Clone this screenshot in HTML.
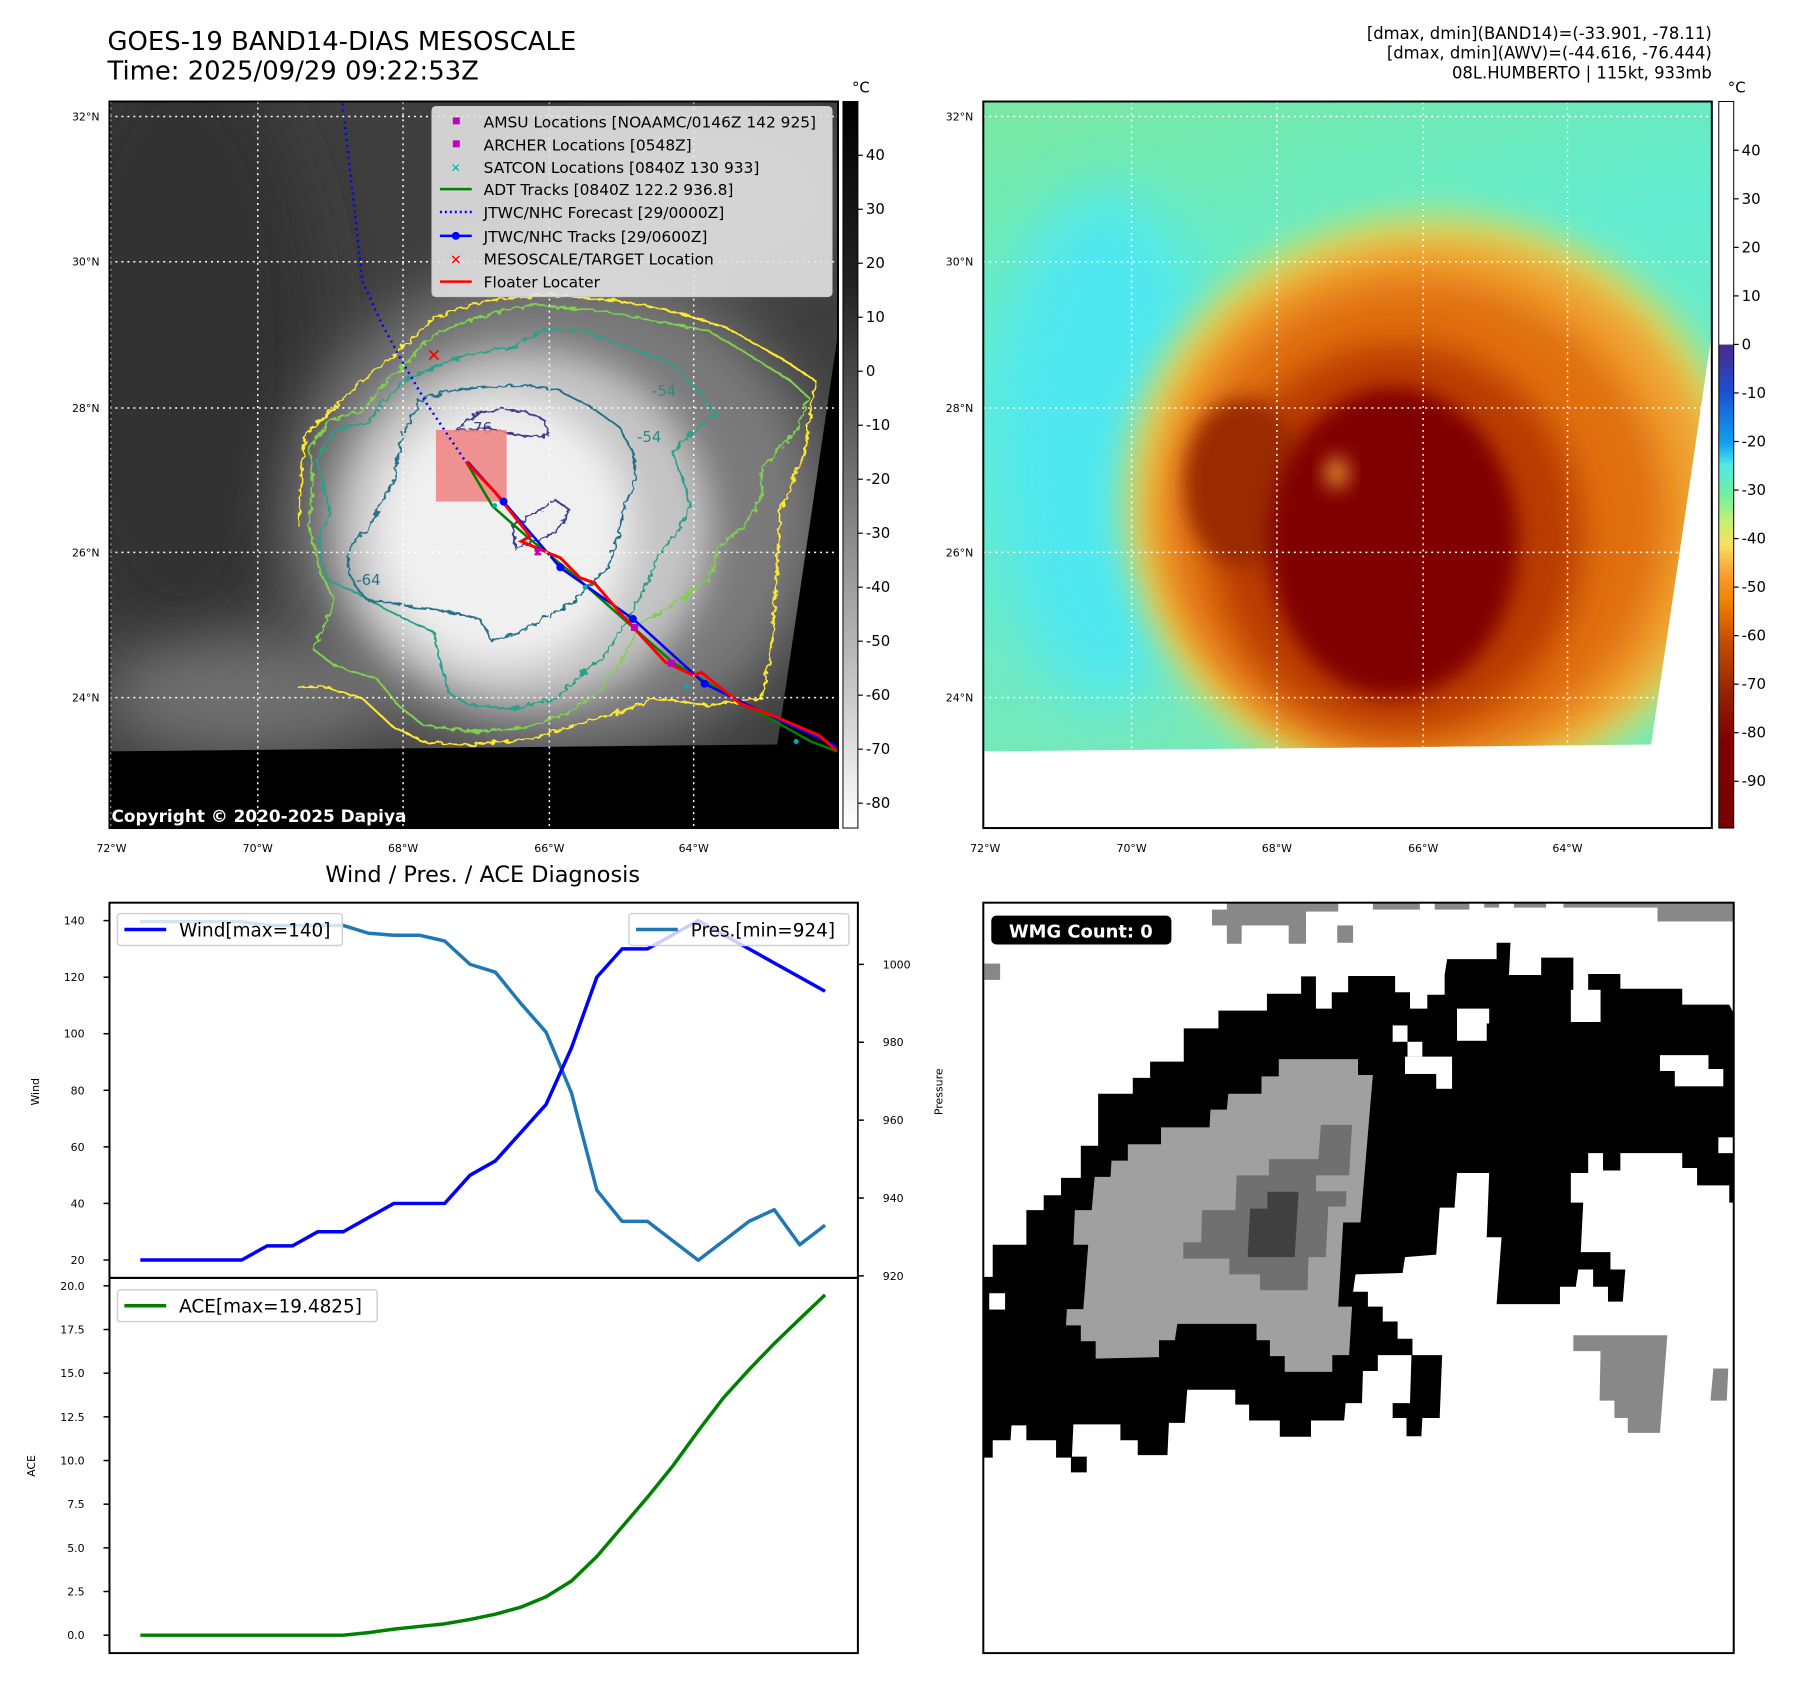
<!DOCTYPE html>
<html><head><meta charset="utf-8"><style>
html,body{margin:0;padding:0;background:#fff;}
svg{display:block;font-family:"DejaVu Sans","Liberation Sans",sans-serif;}
</style></head><body>
<svg id="root" width="1801" height="1690" viewBox="0 0 1801 1690" xmlns="http://www.w3.org/2000/svg">
<defs>
<filter id="b30" x="-50%" y="-50%" width="200%" height="200%"><feGaussianBlur stdDeviation="30"/></filter>
<filter id="b18" x="-50%" y="-50%" width="200%" height="200%"><feGaussianBlur stdDeviation="18"/></filter>
<filter id="b10" x="-50%" y="-50%" width="200%" height="200%"><feGaussianBlur stdDeviation="10"/></filter>
<filter id="wob" x="-10%" y="-10%" width="120%" height="120%"><feTurbulence type="fractalNoise" baseFrequency="0.05" numOctaves="2" seed="3"/><feDisplacementMap in="SourceGraphic" scale="20"/></filter>
<clipPath id="clipL"><polygon points="110,102 842,102 842,335 781,748 110,755"/></clipPath>
<clipPath id="clipR"><polygon points="988,102 1720,102 1720,335 1659,748 988,755"/></clipPath>
<clipPath id="frameL"><rect x="110" y="102" width="732" height="730"/></clipPath>
<linearGradient id="cbGrey" x1="0" y1="0" x2="0" y2="1">
<stop offset="0" stop-color="#000"/><stop offset="0.25" stop-color="#222"/><stop offset="0.6" stop-color="#8a8a8a"/><stop offset="1" stop-color="#fff"/></linearGradient>
<linearGradient id="cbCol" x1="0" y1="0" x2="0" y2="1">
<stop offset="0" stop-color="#fff"/><stop offset="0.334" stop-color="#fff"/><stop offset="0.335" stop-color="#4a2a8a"/>
<stop offset="0.40" stop-color="#1a50d0"/><stop offset="0.47" stop-color="#10a0f0"/><stop offset="0.50" stop-color="#50e8e8"/>
<stop offset="0.54" stop-color="#70f0a0"/><stop offset="0.58" stop-color="#c8f070"/><stop offset="0.61" stop-color="#f8e060"/>
<stop offset="0.65" stop-color="#f8a030"/><stop offset="0.69" stop-color="#f08000"/><stop offset="0.74" stop-color="#c85000"/>
<stop offset="0.82" stop-color="#902000"/><stop offset="0.88" stop-color="#800000"/><stop offset="1" stop-color="#780000"/></linearGradient>
<linearGradient id="bgR" x1="0" y1="0" x2="0.3" y2="1">
<stop offset="0" stop-color="#7ae8a0"/><stop offset="0.4" stop-color="#62ecd0"/><stop offset="1" stop-color="#78e8b8"/></linearGradient>
</defs>
<g transform="scale(0.99524)">
<!-- titles -->
<text x="108" y="50" font-size="26">GOES-19 BAND14-DIAS MESOSCALE</text>
<text x="108" y="80" font-size="26">Time: 2025/09/29 09:22:53Z</text>
<g font-size="16.5" text-anchor="end">
<text x="1720" y="39">[dmax, dmin](BAND14)=(-33.901, -78.11)</text>
<text x="1720" y="59">[dmax, dmin](AWV)=(-44.616, -76.444)</text>
<text x="1720" y="79">08L.HUMBERTO | 115kt, 933mb</text>
</g>

<!-- LEFT MAP -->
<g>
<rect x="110" y="102" width="732" height="730" fill="#000"/>
<g clip-path="url(#clipL)">
<rect x="110" y="102" width="732" height="660" fill="#3e3e3e"/>
<ellipse cx="180" cy="350" rx="140" ry="300" fill="#303030" filter="url(#b30)"/>
<ellipse cx="700" cy="200" rx="150" ry="90" fill="#555" filter="url(#b30)"/>
<ellipse cx="250" cy="700" rx="150" ry="60" fill="#707070" filter="url(#b30)"/>
<ellipse cx="560" cy="515" rx="270" ry="245" fill="#7a7a7a" filter="url(#b30)"/>
<ellipse cx="525" cy="530" rx="190" ry="180" fill="#c4c4c4" filter="url(#b18)"/>
<ellipse cx="505" cy="535" rx="130" ry="135" fill="#f0f0f0" filter="url(#b18)"/>
</g>
<g clip-path="url(#frameL)">
<g transform="translate(300,282.5) scale(0.358,0.333)" fill="none" stroke-width="2" filter="url(#wob)">
<path vector-effect="non-scaling-stroke" stroke="#ffe830" d="M0,740 L10,560 20,460 80,400 160,320 270,220 380,110 520,60 700,40 900,60 1050,90 1200,140 1350,230 1450,300 1420,520 1350,700 1340,900 1330,1100 1300,1260 1150,1280 1000,1260 900,1300 770,1340 660,1380 480,1400 350,1390 260,1340 180,1260 60,1220 0,1230"/>
<path vector-effect="non-scaling-stroke" stroke="#80d050" d="M30,740 L40,600 30,500 90,420 180,390 260,290 380,160 500,110 650,70 850,90 1000,120 1150,150 1260,220 1380,300 1430,350 1400,450 1300,560 1300,650 1250,740 1180,800 1150,900 1050,980 960,1030 920,1120 850,1230 760,1300 640,1345 490,1360 350,1340 280,1280 220,1200 100,1160 40,1110 70,1050 100,960 60,880Z"/>
<path vector-effect="non-scaling-stroke" stroke="#2aa08a" d="M60,760 L90,700 70,620 50,540 100,450 200,420 240,360 300,300 380,260 480,220 600,200 690,145 800,150 950,210 1050,250 1120,330 1170,400 1100,460 1050,520 1080,600 1100,680 1060,760 1010,830 970,930 930,1010 860,1130 800,1180 720,1260 600,1290 480,1280 420,1240 390,1120 380,1060 280,1010 180,950 80,900 60,820Z"/>
<path vector-effect="non-scaling-stroke" stroke="#25708a" d="M140,830 L150,790 200,740 270,590 290,470 340,360 420,330 520,320 650,315 730,330 820,380 900,440 940,520 945,600 915,680 900,760 870,860 780,960 700,1010 620,1060 540,1085 510,1020 430,1000 370,990 240,970 190,960 160,920 140,880Z"/>
<path vector-effect="non-scaling-stroke" stroke="#3a3f8a" d="M440,450 L500,400 560,385 640,395 690,420 700,465 650,470 600,460 530,445 470,450Z M600,740 L650,710 720,660 760,690 720,760 650,790 610,810Z"/>
</g>
<g font-size="15" fill="#2a8a80">
<text x="470" y="435" fill="#3a3f8a">-76</text>
<text x="655" y="398">-54</text>
<text x="640" y="444">-54</text>
<text x="358" y="588" fill="#25708a">-64</text>
</g>
<rect x="438" y="432" width="71" height="72" fill="#f08080" opacity="0.85"/>
<polyline fill="none" stroke="#0000ff" stroke-width="2.5" stroke-dasharray="2,4" points="344,104 355,200 364,282 382,322 404,363 429,406 468,464"/>
<g transform="translate(300,282.5) scale(0.358,0.333)" fill="none">
<polyline vector-effect="non-scaling-stroke" stroke="#008000" stroke-width="2.5" points="470,545 545,680 640,770 760,875 1050,1150 1240,1270 1440,1390 1515,1420"/>
<polyline vector-effect="non-scaling-stroke" stroke="#0000ff" stroke-width="2.5" points="475,545 575,665 735,865 940,1020 1140,1215 1350,1325 1515,1405"/>
<polyline vector-effect="non-scaling-stroke" stroke="#ff0000" stroke-width="3" points="470,545 550,635 650,770 625,785 735,835 790,895 830,910 910,1010 1030,1150 1110,1190 1130,1180 1240,1275 1340,1315 1460,1370 1515,1420"/>
</g>
<g fill="#0000ff"><circle cx="506" cy="504" r="4"/><circle cx="563" cy="570" r="4"/><circle cx="636" cy="622" r="4"/><circle cx="708" cy="687" r="4"/></g>
<g fill="#00b0b0"><circle cx="497" cy="508" r="2.5"/><circle cx="588" cy="590" r="2.5"/><circle cx="690" cy="690" r="2.5"/><circle cx="800" cy="745" r="2.5"/></g>
<g fill="#c000c0"><rect x="537" y="551" width="7" height="7"/><rect x="634" y="627" width="7" height="7"/><rect x="671" y="663" width="7" height="7"/></g>
<text x="436" y="363" fill="#ff0000" font-size="18" font-weight="bold" text-anchor="middle">✕</text>
</g>
<g stroke="#fff" stroke-width="1.5" stroke-dasharray="2,4">
<line x1="259" y1="102" x2="259" y2="832"/><line x1="405" y1="102" x2="405" y2="832"/><line x1="552" y1="102" x2="552" y2="832"/><line x1="697" y1="102" x2="697" y2="832"/>
<line x1="110" y1="117" x2="842" y2="117"/><line x1="110" y1="263" x2="842" y2="263"/><line x1="110" y1="410" x2="842" y2="410"/><line x1="110" y1="555" x2="842" y2="555"/><line x1="110" y1="701" x2="842" y2="701"/>
<line x1="111" y1="102" x2="111" y2="832"/>
</g>
<!-- legend -->
<g>
<rect x="434" y="107" width="402" height="191" rx="4" fill="#e6e6e6" fill-opacity="0.88" stroke="#ccc"/>
<g font-size="15.5" fill="#000">
<rect x="455" y="118" width="7" height="7" fill="#c000c0"/><text x="486" y="128">AMSU Locations [NOAAMC/0146Z 142 925]</text>
<rect x="455" y="141" width="7" height="7" fill="#c000c0"/><text x="486" y="151">ARCHER Locations [0548Z]</text>
<text x="458" y="173" fill="#00b0b0" font-size="12" text-anchor="middle">✕</text><text x="486" y="174">SATCON Locations [0840Z 130 933]</text>
<line x1="442" y1="190" x2="474" y2="190" stroke="#008000" stroke-width="2.5"/><text x="486" y="196">ADT Tracks [0840Z 122.2 936.8]</text>
<line x1="442" y1="213" x2="474" y2="213" stroke="#0000ff" stroke-width="2.5" stroke-dasharray="2,3"/><text x="486" y="219">JTWC/NHC Forecast [29/0000Z]</text>
<line x1="442" y1="237" x2="474" y2="237" stroke="#0000ff" stroke-width="2.5"/><circle cx="458" cy="237" r="4" fill="#0000ff"/><text x="486" y="243">JTWC/NHC Tracks [29/0600Z]</text>
<text x="458" y="266" fill="#ff0000" font-size="14" font-weight="bold" text-anchor="middle">✕</text><text x="486" y="266">MESOSCALE/TARGET Location</text>
<line x1="442" y1="283" x2="474" y2="283" stroke="#ff0000" stroke-width="2.5"/><text x="486" y="289">Floater Locater</text>
</g></g>
<text x="112" y="826" font-size="17" font-weight="bold" fill="#fff">Copyright © 2020-2025 Dapiya</text>
<rect x="110" y="102" width="732" height="730" fill="none" stroke="#000" stroke-width="2"/>
<g font-size="11" fill="#000">
<g text-anchor="end"><text x="100" y="121">32°N</text><text x="100" y="267">30°N</text><text x="100" y="414">28°N</text><text x="100" y="559">26°N</text><text x="100" y="705">24°N</text></g>
<g text-anchor="middle"><text x="112" y="856">72°W</text><text x="259" y="856">70°W</text><text x="405" y="856">68°W</text><text x="552" y="856">66°W</text><text x="697" y="856">64°W</text></g>
</g>
<g>
<rect x="847" y="102" width="15" height="730" fill="url(#cbGrey)" stroke="#000" stroke-width="1"/>
<text x="865" y="93" font-size="15" text-anchor="middle">°C</text>
<g font-size="15" fill="#000" id="cb1ticks"></g>
</g>

<!-- RIGHT MAP -->
<g>
<rect x="988" y="102" width="732" height="730" fill="#fff"/>
<g clip-path="url(#clipR)">
<rect x="988" y="102" width="732" height="660" fill="url(#bgR)"/>
<ellipse cx="1110" cy="450" rx="110" ry="260" fill="#50e8f0" filter="url(#b30)"/>
<ellipse cx="1440" cy="505" rx="310" ry="290" fill="#d8e060" filter="url(#b18)"/>
<ellipse cx="1440" cy="510" rx="290" ry="270" fill="#f0a030" filter="url(#b18)"/>
<ellipse cx="1425" cy="520" rx="250" ry="240" fill="#e07010" filter="url(#b18)"/>
<ellipse cx="1405" cy="540" rx="185" ry="195" fill="#b83a00" filter="url(#b18)"/>
<ellipse cx="1250" cy="485" rx="60" ry="85" fill="#9a2a00" filter="url(#b10)"/>
<ellipse cx="1400" cy="545" rx="125" ry="155" fill="#800000" filter="url(#b10)"/>
<ellipse cx="1343" cy="475" rx="12" ry="16" fill="#e09030" filter="url(#b10)"/>
</g>
<g stroke="#fff" stroke-width="1.5" stroke-dasharray="2,4">
<line x1="1137" y1="102" x2="1137" y2="832"/><line x1="1283" y1="102" x2="1283" y2="832"/><line x1="1430" y1="102" x2="1430" y2="832"/><line x1="1575" y1="102" x2="1575" y2="832"/>
<line x1="988" y1="117" x2="1720" y2="117"/><line x1="988" y1="263" x2="1720" y2="263"/><line x1="988" y1="410" x2="1720" y2="410"/><line x1="988" y1="555" x2="1720" y2="555"/><line x1="988" y1="701" x2="1720" y2="701"/>
</g>
<rect x="988" y="102" width="732" height="730" fill="none" stroke="#000" stroke-width="2"/>
<g font-size="11" fill="#000">
<g text-anchor="end"><text x="978" y="121">32°N</text><text x="978" y="267">30°N</text><text x="978" y="414">28°N</text><text x="978" y="559">26°N</text><text x="978" y="705">24°N</text></g>
<g text-anchor="middle"><text x="990" y="856">72°W</text><text x="1137" y="856">70°W</text><text x="1283" y="856">68°W</text><text x="1430" y="856">66°W</text><text x="1575" y="856">64°W</text></g>
</g>
</g>
<g>
<rect x="1727" y="102" width="15" height="730" fill="url(#cbCol)" stroke="#000" stroke-width="1"/>
<text x="1745" y="93" font-size="15" text-anchor="middle">°C</text>
<g font-size="15" fill="#000" id="cb2ticks"></g>
</g>

<!-- WMG PANEL -->
<g>
<rect x="988" y="907" width="754" height="754" fill="#fff"/>
<svg x="988" y="907" width="754" height="754" viewBox="3 14 1516 1516" preserveAspectRatio="none">
<g fill="#888">
<rect x="465" y="28" width="190" height="32"/><rect x="495" y="12" width="225" height="20"/><rect x="495" y="55" width="30" height="42"/><rect x="620" y="55" width="35" height="42"/><rect x="718" y="60" width="32" height="35"/>
<rect x="790" y="12" width="95" height="16"/><rect x="915" y="12" width="70" height="16"/><rect x="1015" y="12" width="30" height="12"/><rect x="1075" y="12" width="65" height="12"/><rect x="1175" y="12" width="190" height="12"/><rect x="1365" y="12" width="160" height="40"/>
<rect x="5" y="137" width="32" height="33"/>
<polygon points="1195,888 1385,888 1370,1085 1305,1085 1305,1055 1278,1055 1278,1020 1248,1020 1250,920 1195,920"/>
<polygon points="1478,955 1508,955 1505,1020 1472,1020"/>
</g>
<polygon fill="#000" points="0,770 22,770 22,705 90,705 90,635 125,635 125,605 160,605 160,570 200,570 200,505 235,505 235,400 305,400 305,368 340,368 340,335 408,335 408,268 478,268 478,232 576,232 576,198 645,198 645,163 675,163 675,228 707,228 707,195 740,195 740,162 835,162 835,195 865,195 865,228 900,228 900,200 935,200 935,160 940,128 1040,128 1040,95 1068,95 1065,160 1130,160 1130,125 1195,125 1195,255 1225,255 1225,158 1290,158 1290,188 1415,188 1415,220 1510,220 1525,250 1525,620 1510,620 1510,585 1445,585 1445,550 1415,550 1415,520 1290,520 1290,555 1255,555 1255,520 1225,520 1225,560 1190,560 1190,620 1215,620 1210,720 1270,720 1270,755 1300,755 1295,820 1265,820 1265,790 1235,790 1235,755 1205,755 1200,790 1168,790 1168,825 1040,825 1050,690 1020,690 1025,560 960,560 955,630 925,630 918,725 855,730 850,762 755,765 750,800 780,800 780,830 810,830 810,860 840,860 840,895 870,895 870,928 930,928 925,1055 890,1055 888,1092 858,1092 858,1055 830,1055 830,1025 865,1025 868,928 800,928 800,960 770,960 768,1025 735,1025 732,1060 665,1060 665,1093 602,1093 602,1060 540,1060 540,1028 512,1028 512,998 415,998 410,1065 378,1065 375,1130 315,1130 315,1100 280,1100 280,1068 185,1068 182,1133 212,1133 212,1165 180,1165 180,1135 150,1135 150,1100 90,1100 90,1070 60,1070 58,1100 22,1100 22,1135 0,1135"/>
<g fill="#fff">
<rect x="830" y="262" width="30" height="33"/><rect x="860" y="295" width="30" height="30"/><rect x="855" y="325" width="95" height="35"/><rect x="918" y="355" width="32" height="35"/>
<rect x="960" y="228" width="65" height="30"/><rect x="960" y="255" width="60" height="38"/><rect x="1190" y="190" width="60" height="65"/>
<rect x="1370" y="322" width="98" height="32"/><rect x="1400" y="350" width="98" height="35"/><rect x="1488" y="488" width="30" height="32"/>
<rect x="15" y="803" width="32" height="33"/>
</g>
<polygon fill="#a0a0a0" points="600,330 760,330 760,362 790,362 765,660 730,660 720,830 748,830 742,928 708,928 708,962 612,962 612,930 582,930 582,898 555,898 555,865 395,865 390,898 358,898 358,932 230,935 230,900 200,900 200,868 170,868 172,835 205,835 215,705 185,705 188,635 222,635 228,568 260,568 262,535 295,535 295,502 362,502 362,468 460,468 462,432 495,432 498,400 565,400 565,365 600,365"/>
<polygon fill="#707070" points="685,463 748,463 742,565 675,565 675,597 737,597 735,628 700,628 695,730 660,730 658,797 562,797 562,765 500,765 500,733 407,733 407,700 443,700 445,635 512,635 515,565 580,565 580,532 680,532"/>
<polygon fill="#404040" points="577,598 640,598 632,730 537,730 542,632 577,632"/>
</svg>
<rect x="996" y="920" width="181" height="29" rx="5" fill="#000"/>
<text x="1086" y="942" font-size="18" font-weight="bold" fill="#fff" text-anchor="middle">WMG Count: 0</text>
<rect x="988" y="907" width="754" height="754" fill="none" stroke="#000" stroke-width="2"/>
</g>

<!-- CHART -->
<text x="485" y="886" font-size="22.5" text-anchor="middle">Wind / Pres. / ACE Diagnosis</text>
<g id="chart"></g>
</g>
</svg>
<script>
const wind = [20,20,20,20,20,25,25,30,30,35,40,40,40,50,55,65,75,95,120,130,130,135,140,135,130,125,120,115];
const pressure = [1011,1011,1011,1011,1011,1010,1010,1010,1010,1008,1007.5,1007.5,1006,1000,998,990,982.6,967,942,934,934,929,924,929,934,937,928,933];
const ace = [0,0,0,0,0,0,0,0,0,0.15,0.35,0.5,0.65,0.9,1.2,1.6,2.2,3.1,4.5,6.2,7.9,9.7,11.7,13.6,15.2,16.7,18.1,19.48];
const windTicks = [20,40,60,80,100,120,140];
const presTicks = [920,940,960,980,1000];
const aceTicks = [0,2.5,5,7.5,10,12.5,15,17.5,20];
const cb1Ticks = [40,30,20,10,0,-10,-20,-30,-40,-50,-60,-70,-80];
const cb2Ticks = [40,30,20,10,0,-10,-20,-30,-40,-50,-60,-70,-80,-90];

const NS = 'http://www.w3.org/2000/svg';
function mk(tag, attrs, parent) {
  const e = document.createElementNS(NS, tag);
  for (const k in attrs) e.setAttribute(k, attrs[k]);
  parent.appendChild(e);
  return e;
}
const xPos = i => 141 + i * (829 - 141) / (wind.length - 1);
const yWind = v => 1266 - (v - 20) * (1266 - 925) / 120;
const yPres = v => 1282 - (v - 920) * (1282 - 969) / 80;
const yAce = v => 1643 - v * (1643 - 1292) / 20;
const yCb1 = v => 156 + (40 - v) * (807 - 156) / 120;
const yCb2 = v => 151 + (40 - v) * (785 - 151) / 130;

const chart = document.getElementById('chart');
const f1 = mk('rect', {x:110, y:907, width:752, height:377, fill:'none', stroke:'#000', 'stroke-width':2}, chart);


const f2 = mk('rect', {x:110, y:1284, width:752, height:377, fill:'none', stroke:'#000', 'stroke-width':2}, chart);



function line(arr, yf, color, name) {
  const pts = arr.map((v, i) => xPos(i).toFixed(1) + ',' + yf(v).toFixed(1)).join(' ');
  const p = mk('polyline', {points: pts, fill:'none', stroke:color, 'stroke-width':3.5, 'stroke-linejoin':'round'}, chart);
  
  
}
line(pressure, yPres, '#1f77b4', 'pressure-line');
line(wind, yWind, '#0000ff', 'wind-line');
line(ace, yAce, '#008000', 'ace-line');

function ticksLeft(ticks, yf, fmt, name) {
  ticks.forEach(t => {
    const y = yf(t);
    mk('line', {x1:104, y1:y, x2:110, y2:y, stroke:'#000', 'stroke-width':1.5}, chart);
    const tx = mk('text', {x:85, y:y+4, 'font-size':11, 'text-anchor':'end'}, chart);
    tx.textContent = fmt(t);
    
    
  });
}
ticksLeft(windTicks, yWind, t => String(t), 'wind-tick-label');
ticksLeft(aceTicks, yAce, t => t.toFixed(1), 'ace-tick-label');
presTicks.forEach(t => {
  const y = yPres(t);
  mk('line', {x1:862, y1:y, x2:868, y2:y, stroke:'#000', 'stroke-width':1.5}, chart);
  const tx = mk('text', {x:887, y:y+4, 'font-size':11}, chart);
  tx.textContent = String(t);
  
  
});
function rotLabel(x, y, s, name) {
  const t = mk('text', {x:x, y:y, 'font-size':11, 'text-anchor':'middle', transform:'rotate(-90 '+x+' '+y+')'}, chart);
  t.textContent = s;
  
  
}
rotLabel(39, 1097, 'Wind', 'wind-axis-title');
rotLabel(947, 1097, 'Pressure', 'pressure-axis-title');
rotLabel(35, 1473, 'ACE', 'ace-axis-title');

function legend(x, y, w, color, label, name) {
  const g = mk('g', {}, chart);
  
  
  mk('rect', {x:x, y:y, width:w, height:32, rx:3, fill:'#fff', 'fill-opacity':0.8, stroke:'#d0d0d0', 'stroke-width':1.5}, g);
  mk('line', {x1:x+7, y1:y+16, x2:x+49, y2:y+16, stroke:color, 'stroke-width':3.5}, g);
  const t = mk('text', {x:x+62, y:y+23, 'font-size':18.5}, g);
  t.textContent = label;
}
legend(118, 918, 226, '#0000ff', 'Wind[max=' + Math.max(...wind) + ']', 'wind-legend');
legend(632, 918, 221, '#1f77b4', 'Pres.[min=' + Math.min(...pressure) + ']', 'pressure-legend');
legend(118, 1296, 261, '#008000', 'ACE[max=19.4825]', 'ace-legend');

function cbTicks(id, ticks, yf, x) {
  const g = document.getElementById(id);
  ticks.forEach(t => {
    const y = yf(t);
    mk('line', {x1:x, y1:y, x2:x+5, y2:y, stroke:'#000', 'stroke-width':1.2}, g);
    const tx = mk('text', {x:x+8, y:y+5}, g);
    tx.textContent = String(t);
    
    
  });
}
cbTicks('cb1ticks', cb1Ticks, yCb1, 862);
cbTicks('cb2ticks', cb2Ticks, yCb2, 1742);
</script>
</body></html>
